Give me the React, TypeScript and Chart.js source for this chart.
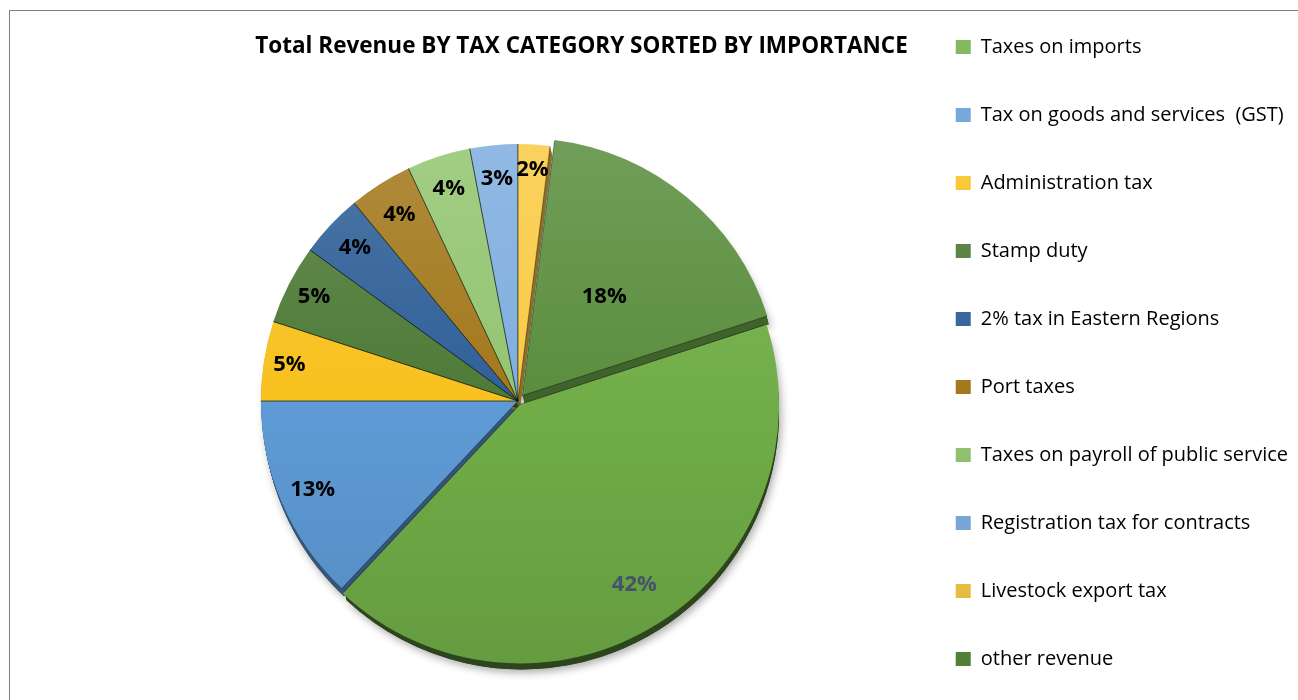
import React, { useEffect, useRef } from "react";
import { Chart, registerables } from "chart.js";

Chart.register(...registerables);

// ---------- data ----------
const categories = [
  "Taxes on imports",
  "Tax on goods and services  (GST)",
  "Administration tax",
  "Stamp duty",
  "2% tax in Eastern Regions",
  "Port taxes",
  "Taxes on payroll of public service",
  "Registration tax for contracts",
  "Livestock export tax",
  "other revenue",
];
const shares = [42, 13, 5, 5, 4, 4, 4, 3, 2, 18];
const chartTitle = "Total Revenue BY TAX CATEGORY SORTED BY IMPORTANCE";

// ---------- styles ----------
const sliceColors = [
  "#70AD47",
  "#5E9BD6",
  "#F8C11E",
  "#4E7A37",
  "#2F6098",
  "#A3781C",
  "#93C571",
  "#7FAEDF",
  "#F9CB45",
  "#5A8E3E",
];
const rimShades = [-0.6, -0.45, -0.45, -0.45, -0.45, -0.45, -0.45, -0.45, -0.45, -0.3];
const sliceOffsets = [16, 0, 0, 0, 0, 0, 0, 0, 0, 28];
const labelRadius = [0.83, 0.87, 0.9, 0.89, 0.87, 0.86, 0.87, 0.87, 0.9, 0.5];
const labelColors = ["#44546A", "#000", "#000", "#000", "#000", "#000", "#000", "#000", "#000", "#000"];
const FONT = "'Open Sans', Lato, sans-serif";
const PIE_RADIUS = 257;
const RIM_DEPTH = 8;
const RIM_DX = 2;

function hexToRgb(hex: string) {
  const h = hex.replace("#", "");
  return [parseInt(h.slice(0, 2), 16), parseInt(h.slice(2, 4), 16), parseInt(h.slice(4, 6), 16)];
}
function shade(hex: string, f: number) {
  const [r, g, b] = hexToRgb(hex);
  if (f >= 0) {
    return `rgb(${Math.round(r + (255 - r) * f)},${Math.round(g + (255 - g) * f)},${Math.round(b + (255 - b) * f)})`;
  }
  const k = 1 + f;
  return `rgb(${Math.round(r * k)},${Math.round(g * k)},${Math.round(b * k)})`;
}

function arcGeom(arc: any) {
  const p = arc.getProps(["x", "y", "startAngle", "endAngle", "outerRadius"], true);
  const off = (arc.options.offset || 0) / 4;
  const mid = (p.startAngle + p.endAngle) / 2;
  return {
    cx: p.x + Math.cos(mid) * off,
    cy: p.y + Math.sin(mid) * off,
    start: p.startAngle,
    end: p.endAngle,
    r: p.outerRadius,
    mid,
  };
}
function sectorPath(ctx: CanvasRenderingContext2D, cx: number, cy: number, r: number, s: number, e: number) {
  ctx.beginPath();
  ctx.moveTo(cx, cy);
  ctx.arc(cx, cy, r, s, e);
  ctx.closePath();
}

const rimPlugin = {
  id: "rim3d",
  beforeDatasetsDraw(chart: any) {
    const meta = chart.getDatasetMeta(0);
    const ctx: CanvasRenderingContext2D = chart.ctx;
    const geoms = meta.data.map((a: any) => arcGeom(a));
    ctx.save();
    // soft shadow
    ctx.shadowColor = "rgba(0,0,0,0.35)";
    ctx.shadowBlur = 8;
    ctx.shadowOffsetX = 2;
    ctx.shadowOffsetY = 3;
    geoms.forEach((g: any, i: number) => {
      ctx.fillStyle = shade(sliceColors[i], rimShades[i]);
      sectorPath(ctx, g.cx + RIM_DX, g.cy + RIM_DEPTH, g.r, g.start, g.end);
      ctx.fill();
    });
    ctx.shadowColor = "rgba(0,0,0,0)";
    ctx.shadowBlur = 0;
    geoms.forEach((g: any, i: number) => {
      ctx.fillStyle = shade(sliceColors[i], rimShades[i]);
      for (let d = 1; d <= RIM_DEPTH; d++) {
        sectorPath(ctx, g.cx + (RIM_DX * d) / RIM_DEPTH, g.cy + d, g.r, g.start, g.end);
        ctx.fill();
      }
    });
    ctx.restore();
  },
  afterDatasetsDraw(chart: any) {
    const meta = chart.getDatasetMeta(0);
    const ctx: CanvasRenderingContext2D = chart.ctx;
    const total = shares.reduce((a, b) => a + b, 0);
    ctx.save();
    // slice separators
    ctx.strokeStyle = "rgba(0,0,0,0.35)";
    ctx.lineWidth = 1;
    meta.data.forEach((arc: any) => {
      const g = arcGeom(arc);
      ctx.beginPath();
      ctx.moveTo(g.cx + Math.cos(g.start) * g.r, g.cy + Math.sin(g.start) * g.r);
      ctx.lineTo(g.cx, g.cy);
      ctx.lineTo(g.cx + Math.cos(g.end) * g.r, g.cy + Math.sin(g.end) * g.r);
      ctx.stroke();
    });
    // percentage labels
    ctx.font = `bold 22px ${FONT}`;
    ctx.textAlign = "center";
    ctx.textBaseline = "middle";
    meta.data.forEach((arc: any, i: number) => {
      const g = arcGeom(arc);
      const rr = g.r * labelRadius[i];
      const x = g.cx + Math.cos(g.mid) * rr;
      const y = g.cy + Math.sin(g.mid) * rr;
      ctx.fillStyle = labelColors[i];
      ctx.fillText(Math.round((shares[i] / total) * 100) + "%", x, y);
    });
    ctx.restore();
  },
};

export default function App() {
  const canvasRef = useRef<HTMLCanvasElement | null>(null);

  useEffect(() => {
    if (!canvasRef.current) return;
    const chart = new Chart(canvasRef.current, {
      type: "pie",
      data: {
        labels: categories,
        datasets: [
          {
            data: shares,
            backgroundColor: (c: any) => {
              const base = sliceColors[c.dataIndex];
              const area = c.chart.chartArea;
              if (!area) return base;
              const cy = (area.top + area.bottom) / 2;
              const g = c.chart.ctx.createLinearGradient(0, cy - PIE_RADIUS, 0, cy + PIE_RADIUS);
              g.addColorStop(0, shade(base, 0.14));
              g.addColorStop(0.5, base);
              g.addColorStop(1, shade(base, -0.1));
              return g;
            },
            borderWidth: 0,
            offset: sliceOffsets,
          },
        ],
      },
      options: {
        responsive: false,
        animation: false,
        devicePixelRatio: 1,
        rotation: 72,
        radius: PIE_RADIUS,
        layout: { padding: { left: 128, right: 0, top: 0, bottom: 0 } },
        plugins: {
          title: {
            display: true,
            text: chartTitle,
            position: "top",
            align: "end",
            fullSize: false,
            color: "#000",
            font: { family: FONT, size: 22.5, weight: "bold", lineHeight: 1.2 },
            padding: { top: 44.5, bottom: 12.5 },
          },
          legend: {
            display: true,
            position: "right",
            align: "start",
            maxWidth: 392,
            labels: {
              color: "#000",
              boxWidth: 15,
              boxHeight: 14,
              padding: 48,
              font: { family: FONT, size: 20 },
            },
          },
          tooltip: { enabled: false },
        },
      } as any,
      plugins: [rimPlugin],
    });
    return () => chart.destroy();
  }, []);

  return (
    <div style={{ position: "absolute", left: 0, top: 0, width: 1298, height: 700, overflow: "hidden", background: "#fff" }}>
      <div
        style={{
          position: "absolute",
          left: 9,
          top: 10,
          width: 1400,
          height: 800,
          borderTop: "1px solid #7f7f7f",
          borderLeft: "1px solid #7f7f7f",
        }}
      />
      <canvas
        ref={canvasRef}
        width={1298}
        height={740}
        style={{ position: "absolute", left: 0, top: -11, width: 1298, height: 740 }}
      />
    </div>
  );
}
